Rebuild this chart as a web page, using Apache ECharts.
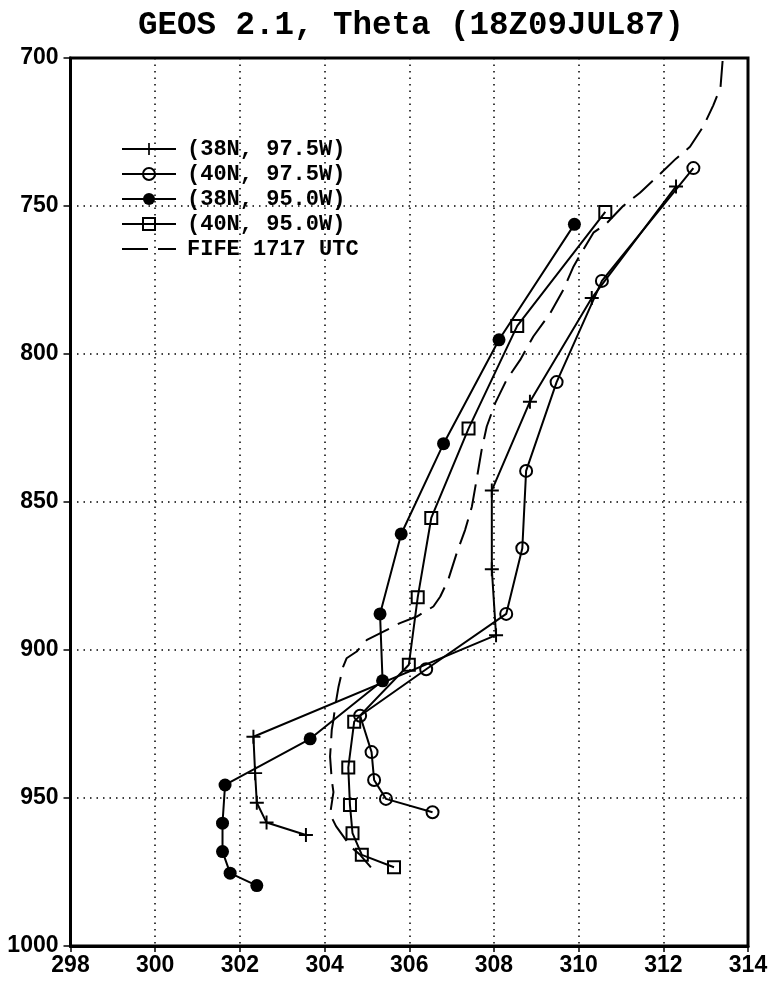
<!DOCTYPE html>
<html>
<head>
<meta charset="utf-8">
<script src="https://cdn.jsdelivr.net/npm/echarts@6/dist/echarts.min.js"></script>
<style>
  html, body { margin: 0; padding: 0; background: #fff; }
  #chart { width: 772px; height: 982px; }
</style>
</head>
<body>
<div id="chart"></div>
<script>
// Potential temperature profiles (K) against pressure (hPa)
const chartTitle = 'GEOS 2.1, Theta (18Z09JUL87)';
const thetaTicks = [298, 300, 302, 304, 306, 308, 310, 312, 314];
const pressureTicks = [700, 750, 800, 850, 900, 950, 1000];

const seriesNames = ['(38N, 97.5W)', '(40N, 97.5W)', '(38N, 95.0W)', '(40N, 95.0W)', 'FIFE 1717 UTC'];

// Model column at 38N, 97.5W
const theta38N975 = [312.30, 310.31, 308.85, 307.95, 307.95, 308.05, 302.32, 302.36, 302.40, 302.63, 303.56];
const pres38N975  = [743.4, 781.1, 816.1, 846.1, 872.7, 895.0, 929.3, 941.6, 951.6, 958.3, 962.5];

// Model column at 40N, 97.5W
const theta40N975 = [312.71, 310.55, 309.48, 308.76, 308.67, 308.29, 306.40, 304.84, 305.11, 305.17, 305.45, 306.55];
const pres40N975  = [737.2, 775.3, 809.5, 839.5, 865.6, 887.8, 906.5, 922.2, 934.5, 943.9, 950.3, 954.8];

// Model column at 38N, 95.0W
const theta38N950 = [309.90, 308.12, 306.81, 305.81, 305.31, 305.37, 303.66, 301.65, 301.59, 301.59, 301.77, 302.40];
const pres38N950  = [756.2, 795.2, 830.3, 860.8, 887.8, 910.4, 930.0, 945.6, 958.5, 968.1, 975.4, 979.6];

// Model column at 40N, 95.0W
const theta40N950 = [310.63, 308.55, 307.40, 306.52, 306.20, 305.99, 304.70, 304.56, 304.60, 304.66, 304.88, 305.64];
const pres40N950  = [752.0, 790.5, 825.2, 855.4, 882.2, 905.0, 924.2, 939.7, 952.4, 961.9, 969.2, 973.4];

// FIFE sounding, 1717 UTC
const thetaFife = [313.40, 313.35, 313.18, 312.95, 312.63, 312.30, 311.90, 311.45, 311.05, 310.65, 310.35, 310.10,
                   309.88, 309.64, 309.33, 308.93, 308.62, 308.30, 308.03, 307.83, 307.71, 307.59, 307.48, 307.32,
                   307.12, 306.92, 306.73, 306.57, 306.18, 305.78, 305.39, 305.00, 304.76, 304.52, 304.44, 304.33,
                   304.25, 304.21, 304.17, 304.15, 304.13, 304.17, 304.21, 304.13, 304.27, 304.62, 304.84, 305.22];
const presFife  = [701.0, 710.0, 716.0, 723.0, 730.0, 734.0, 739.5, 745.5, 750.0, 756.0, 759.0, 765.0,
                   770.4, 778.3, 786.2, 794.1, 802.0, 808.7, 816.6, 824.5, 832.4, 842.5, 851.5, 859.4,
                   867.3, 876.3, 882.0, 885.3, 888.7, 890.9, 893.8, 896.6, 900.5, 902.8, 905.6, 912.4,
                   919.1, 923.6, 927.0, 931.5, 936.0, 943.9, 948.0, 955.5, 959.5, 966.5, 969.2, 975.5];

function pairs(xs, ys) { return xs.map((x, i) => [x, ys[i]]); }

const plusPath = 'path://M4.3,0 H5.7 V4.3 H10 V5.7 H5.7 V10 H4.3 V5.7 H0 V4.3 H4.3 Z';
const ink = '#000';
const clear = 'rgba(0,0,0,0)';
const fifeDash = [26, 10];
const serifMono = '"Liberation Mono", "DejaVu Sans Mono", monospace';
const tickFont = '"Liberation Sans", Arial, sans-serif';

function profile(name, xs, ys, symbol, size, fill) {
  return {
    name: name,
    type: 'line',
    data: pairs(xs, ys),
    symbol: symbol,
    symbolSize: size,
    showAllSymbol: true,
    animation: false,
    lineStyle: { color: ink, width: 2 },
    itemStyle: { color: fill, borderColor: ink, borderWidth: fill === ink ? 0 : 2 },
    emphasis: { disabled: true },
    z: 3
  };
}

const legendItems = seriesNames.map((name, i) => {
  const item = { name: name, lineStyle: { color: ink, width: 2 } };
  if (i === 4) {
    item.lineStyle.type = fifeDash;
    item.itemStyle = { color: clear, borderColor: clear, borderWidth: 0, opacity: 0 };
  }
  return item;
});

const chart = echarts.init(document.getElementById('chart'), null, { renderer: 'canvas' });

chart.setOption({
  backgroundColor: '#fff',
  animation: false,
  title: {
    text: chartTitle,
    left: 133,
    top: 4,
    textStyle: { fontFamily: serifMono, fontSize: 32.5, fontWeight: 'bold', color: ink }
  },
  legend: {
    orient: 'vertical',
    left: 121,
    top: 138,
    padding: 0,
    itemWidth: 54,
    itemHeight: 15,
    itemGap: 3,
    selectedMode: false,
    data: legendItems,
    textStyle: { fontFamily: serifMono, fontSize: 22, fontWeight: 'bold', color: ink, lineHeight: 22, padding: [0, 0, 0, 6] }
  },
  grid: {
    left: 70.5,
    right: 24,
    top: 58,
    bottom: 36,
    show: true,
    borderColor: ink,
    borderWidth: 3,
    backgroundColor: 'transparent'
  },
  xAxis: {
    type: 'value',
    min: thetaTicks[0],
    max: thetaTicks[thetaTicks.length - 1],
    interval: thetaTicks[1] - thetaTicks[0],
    axisLine: { onZero: false, lineStyle: { color: ink, width: 3 } },
    axisTick: { show: true, inside: false, length: 6, lineStyle: { color: ink, width: 1.5 } },
    axisLabel: { margin: 8, fontFamily: tickFont, fontSize: 23, fontWeight: 'bold', color: ink,
                 formatter: v => String(v) },
    splitLine: { show: true, lineStyle: { color: ink, width: 1.5, type: [1.5, 5] } }
  },
  yAxis: {
    type: 'value',
    inverse: true,
    min: pressureTicks[0],
    max: pressureTicks[pressureTicks.length - 1],
    interval: pressureTicks[1] - pressureTicks[0],
    axisLine: { onZero: false, lineStyle: { color: ink, width: 3 } },
    axisTick: { show: true, inside: false, length: 7, lineStyle: { color: ink, width: 1.5 } },
    axisLabel: { margin: 12, fontFamily: tickFont, fontSize: 23, fontWeight: 'bold', color: ink,
                 formatter: v => String(v) },
    splitLine: { show: true, lineStyle: { color: ink, width: 1.5, type: [1.5, 5] } }
  },
  series: [
    profile(seriesNames[0], theta38N975, pres38N975, plusPath, 14, ink),
    profile(seriesNames[1], theta40N975, pres40N975, 'circle', 12, clear),
    profile(seriesNames[2], theta38N950, pres38N950, 'circle', 13, ink),
    profile(seriesNames[3], theta40N950, pres40N950, 'rect', 12, clear),
    {
      name: seriesNames[4],
      type: 'line',
      data: pairs(thetaFife, presFife),
      symbol: 'none',
      animation: false,
      lineStyle: { color: ink, width: 2, type: fifeDash },
      itemStyle: { color: ink },
      emphasis: { disabled: true },
      z: 2
    }
  ]
});
</script>
</body>
</html>
